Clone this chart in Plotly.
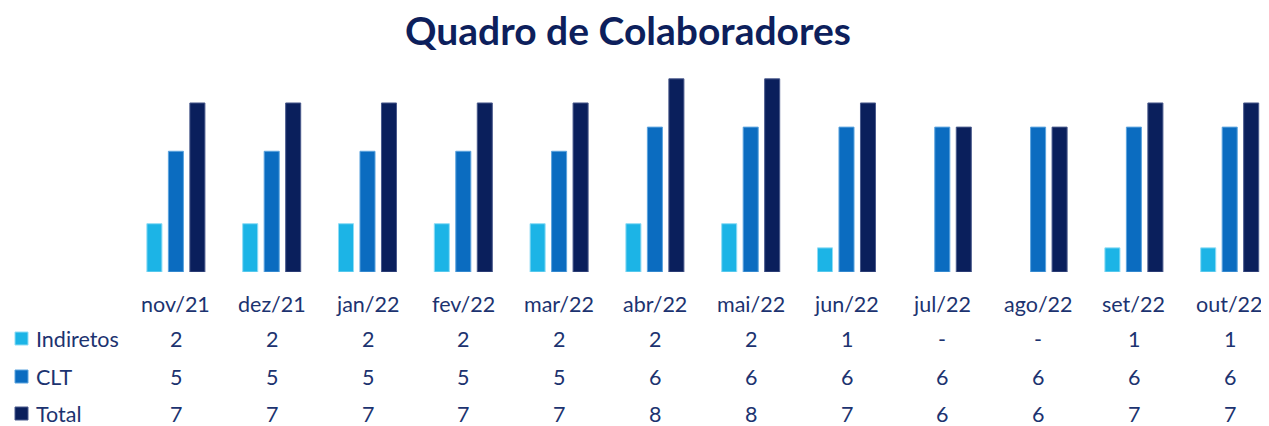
import plotly.graph_objects as go

categories = ["nov/21", "dez/21", "jan/22", "fev/22", "mar/22", "abr/22",
              "mai/22", "jun/22", "jul/22", "ago/22", "set/22", "out/22"]
indiretos = [2, 2, 2, 2, 2, 2, 2, 1, None, None, 1, 1]
clt = [5, 5, 5, 5, 5, 6, 6, 6, 6, 6, 6, 6]
total = [7, 7, 7, 7, 7, 8, 8, 7, 6, 6, 7, 7]
series_names = ["Indiretos", "CLT", "Total"]

colors = ["#1cb4e6", "#0b6cc0", "#0a1f5c"]
edge = ["#8fdcf5", "#5da4de", "#4a5a8c"]
text_color = "#1c3370"
font_family = "Lato, Carlito, Calibri, 'Open Sans', sans-serif"

# page body margin offset (page pixel = figure pixel + OFF)
OFF = 8
W, H = 1269 - OFF, 426 - OFF
plot_top, plot_bottom = 74 - OFF, 272 - OFF
plot_left = 128 - OFF
y_max = 8.2
pw = W - plot_left
plot_h = plot_bottom - plot_top


def py(page_y):
    return (plot_bottom - (page_y - OFF)) / plot_h


def px(page_x):
    return ((page_x - OFF) - plot_left) / pw


fig = go.Figure()
for name, vals, c, e in zip(series_names, [indiretos, clt, total], colors, edge):
    fig.add_trace(go.Bar(
        x=categories, y=vals, name=name,
        marker=dict(color=c, line=dict(color=e, width=1)),
        showlegend=False,
    ))

cat_w = 95.8
x_hi = -0.5 + pw / cat_w

tsize = 21.5
annotations = []
for c in categories:
    annotations.append(dict(x=c, y=py(304), xref="x", yref="paper", text=c,
                            showarrow=False, xanchor="center", yanchor="middle",
                            font=dict(size=tsize, color=text_color, family=font_family)))
rows_y = [339, 377, 414]
shapes = []
for name, vals, c, e, ry in zip(series_names, [indiretos, clt, total], colors, edge, rows_y):
    for cat, v in zip(categories, vals):
        annotations.append(dict(x=cat, y=py(ry), xref="x", yref="paper",
                                text="-" if v is None else str(v),
                                showarrow=False, xanchor="center", yanchor="middle",
                                font=dict(size=tsize, color=text_color, family=font_family)))
    annotations.append(dict(x=px(34), y=py(ry), xref="paper", yref="paper", text=name,
                            showarrow=False, xanchor="left", yanchor="middle",
                            font=dict(size=tsize, color=text_color, family=font_family)))
    shapes.append(dict(type="rect", xref="paper", yref="paper",
                       x0=px(15), x1=px(28), y0=py(ry + 6), y1=py(ry - 7),
                       fillcolor=c, line=dict(color=e, width=1)))

fig.update_layout(
    width=W, height=H,
    paper_bgcolor="white", plot_bgcolor="white",
    margin=dict(l=plot_left, r=0, t=plot_top, b=H - plot_bottom, pad=0),
    barmode="group", bargap=0.327, bargroupgap=0.30,
    title=dict(text="<b>Quadro de Colaboradores</b>", x=(628 - OFF) / W, xanchor="center",
               y=1 - (31 - OFF) / H, yanchor="middle",
               font=dict(size=39, color="#0d1f5c", family=font_family)),
    xaxis=dict(range=[-0.5, x_hi], showticklabels=False, showgrid=False,
               zeroline=False, showline=False, ticks=""),
    yaxis=dict(range=[0, y_max], visible=False, showgrid=False, zeroline=False),
    annotations=annotations,
    shapes=shapes,
)

fig.write_html("out.html")
